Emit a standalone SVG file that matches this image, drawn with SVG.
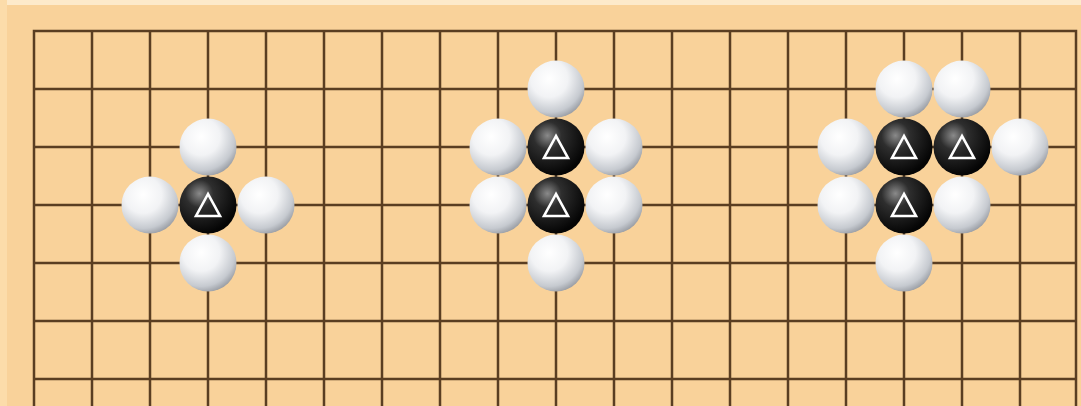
<svg xmlns="http://www.w3.org/2000/svg" width="1081" height="406" viewBox="0 0 1081 406">
<defs>
<radialGradient id="wg" cx="0.38" cy="0.32" r="0.72">
<stop offset="0" stop-color="#ffffff"/>
<stop offset="0.45" stop-color="#f2f3f5"/>
<stop offset="0.82" stop-color="#c6cad0"/>
<stop offset="1" stop-color="#989ca3"/>
</radialGradient>
<radialGradient id="bg" cx="0.35" cy="0.3" r="0.7">
<stop offset="0" stop-color="#8a8a8a"/>
<stop offset="0.35" stop-color="#2e2e2e"/>
<stop offset="1" stop-color="#050505"/>
</radialGradient>
<symbol id="w" overflow="visible"><circle r="28.5" fill="url(#wg)"/></symbol>
<symbol id="b" overflow="visible"><circle r="28.5" fill="url(#bg)"/><polygon points="0,-11 -12,11 12,11" fill="none" stroke="#ffffff" stroke-width="2.6" stroke-linejoin="miter"/></symbol>
</defs>
<style>
.g{stroke:#5a3e22;stroke-width:2.5;fill:none}
</style>
<rect width="1081" height="406" fill="#f9d29a"/>
<rect x="0" y="0" width="1081" height="5" fill="#fdeacb"/>
<rect x="0" y="0" width="7" height="406" fill="#fcdcaa"/>
<g id="grid" class="g">
<rect x="34" y="31" width="1042" height="420"/>
<path d="M92 31V406M150 31V406M208 31V406M266 31V406M324 31V406M382 31V406M440 31V406M498 31V406M556 31V406M614 31V406M672 31V406M730 31V406M788 31V406M846 31V406M904 31V406M962 31V406M1020 31V406"/>
<path d="M34 89H1076M34 147H1076M34 205H1076M34 263H1076M34 321H1076M34 379H1076"/>
</g>
<g id="group1">
<use href="#w" x="208" y="147"/>
<use href="#w" x="150" y="205"/>
<use href="#w" x="266" y="205"/>
<use href="#w" x="208" y="263"/>
<use href="#b" x="208" y="205"/>
</g>
<g id="group2">
<use href="#w" x="556" y="89"/>
<use href="#w" x="498" y="147"/>
<use href="#w" x="614" y="147"/>
<use href="#w" x="498" y="205"/>
<use href="#w" x="614" y="205"/>
<use href="#w" x="556" y="263"/>
<use href="#b" x="556" y="147"/>
<use href="#b" x="556" y="205"/>
</g>
<g id="group3">
<use href="#w" x="904" y="89"/>
<use href="#w" x="962" y="89"/>
<use href="#w" x="846" y="147"/>
<use href="#w" x="1020" y="147"/>
<use href="#w" x="846" y="205"/>
<use href="#w" x="962" y="205"/>
<use href="#w" x="904" y="263"/>
<use href="#b" x="904" y="147"/>
<use href="#b" x="962" y="147"/>
<use href="#b" x="904" y="205"/>
</g>
</svg>
